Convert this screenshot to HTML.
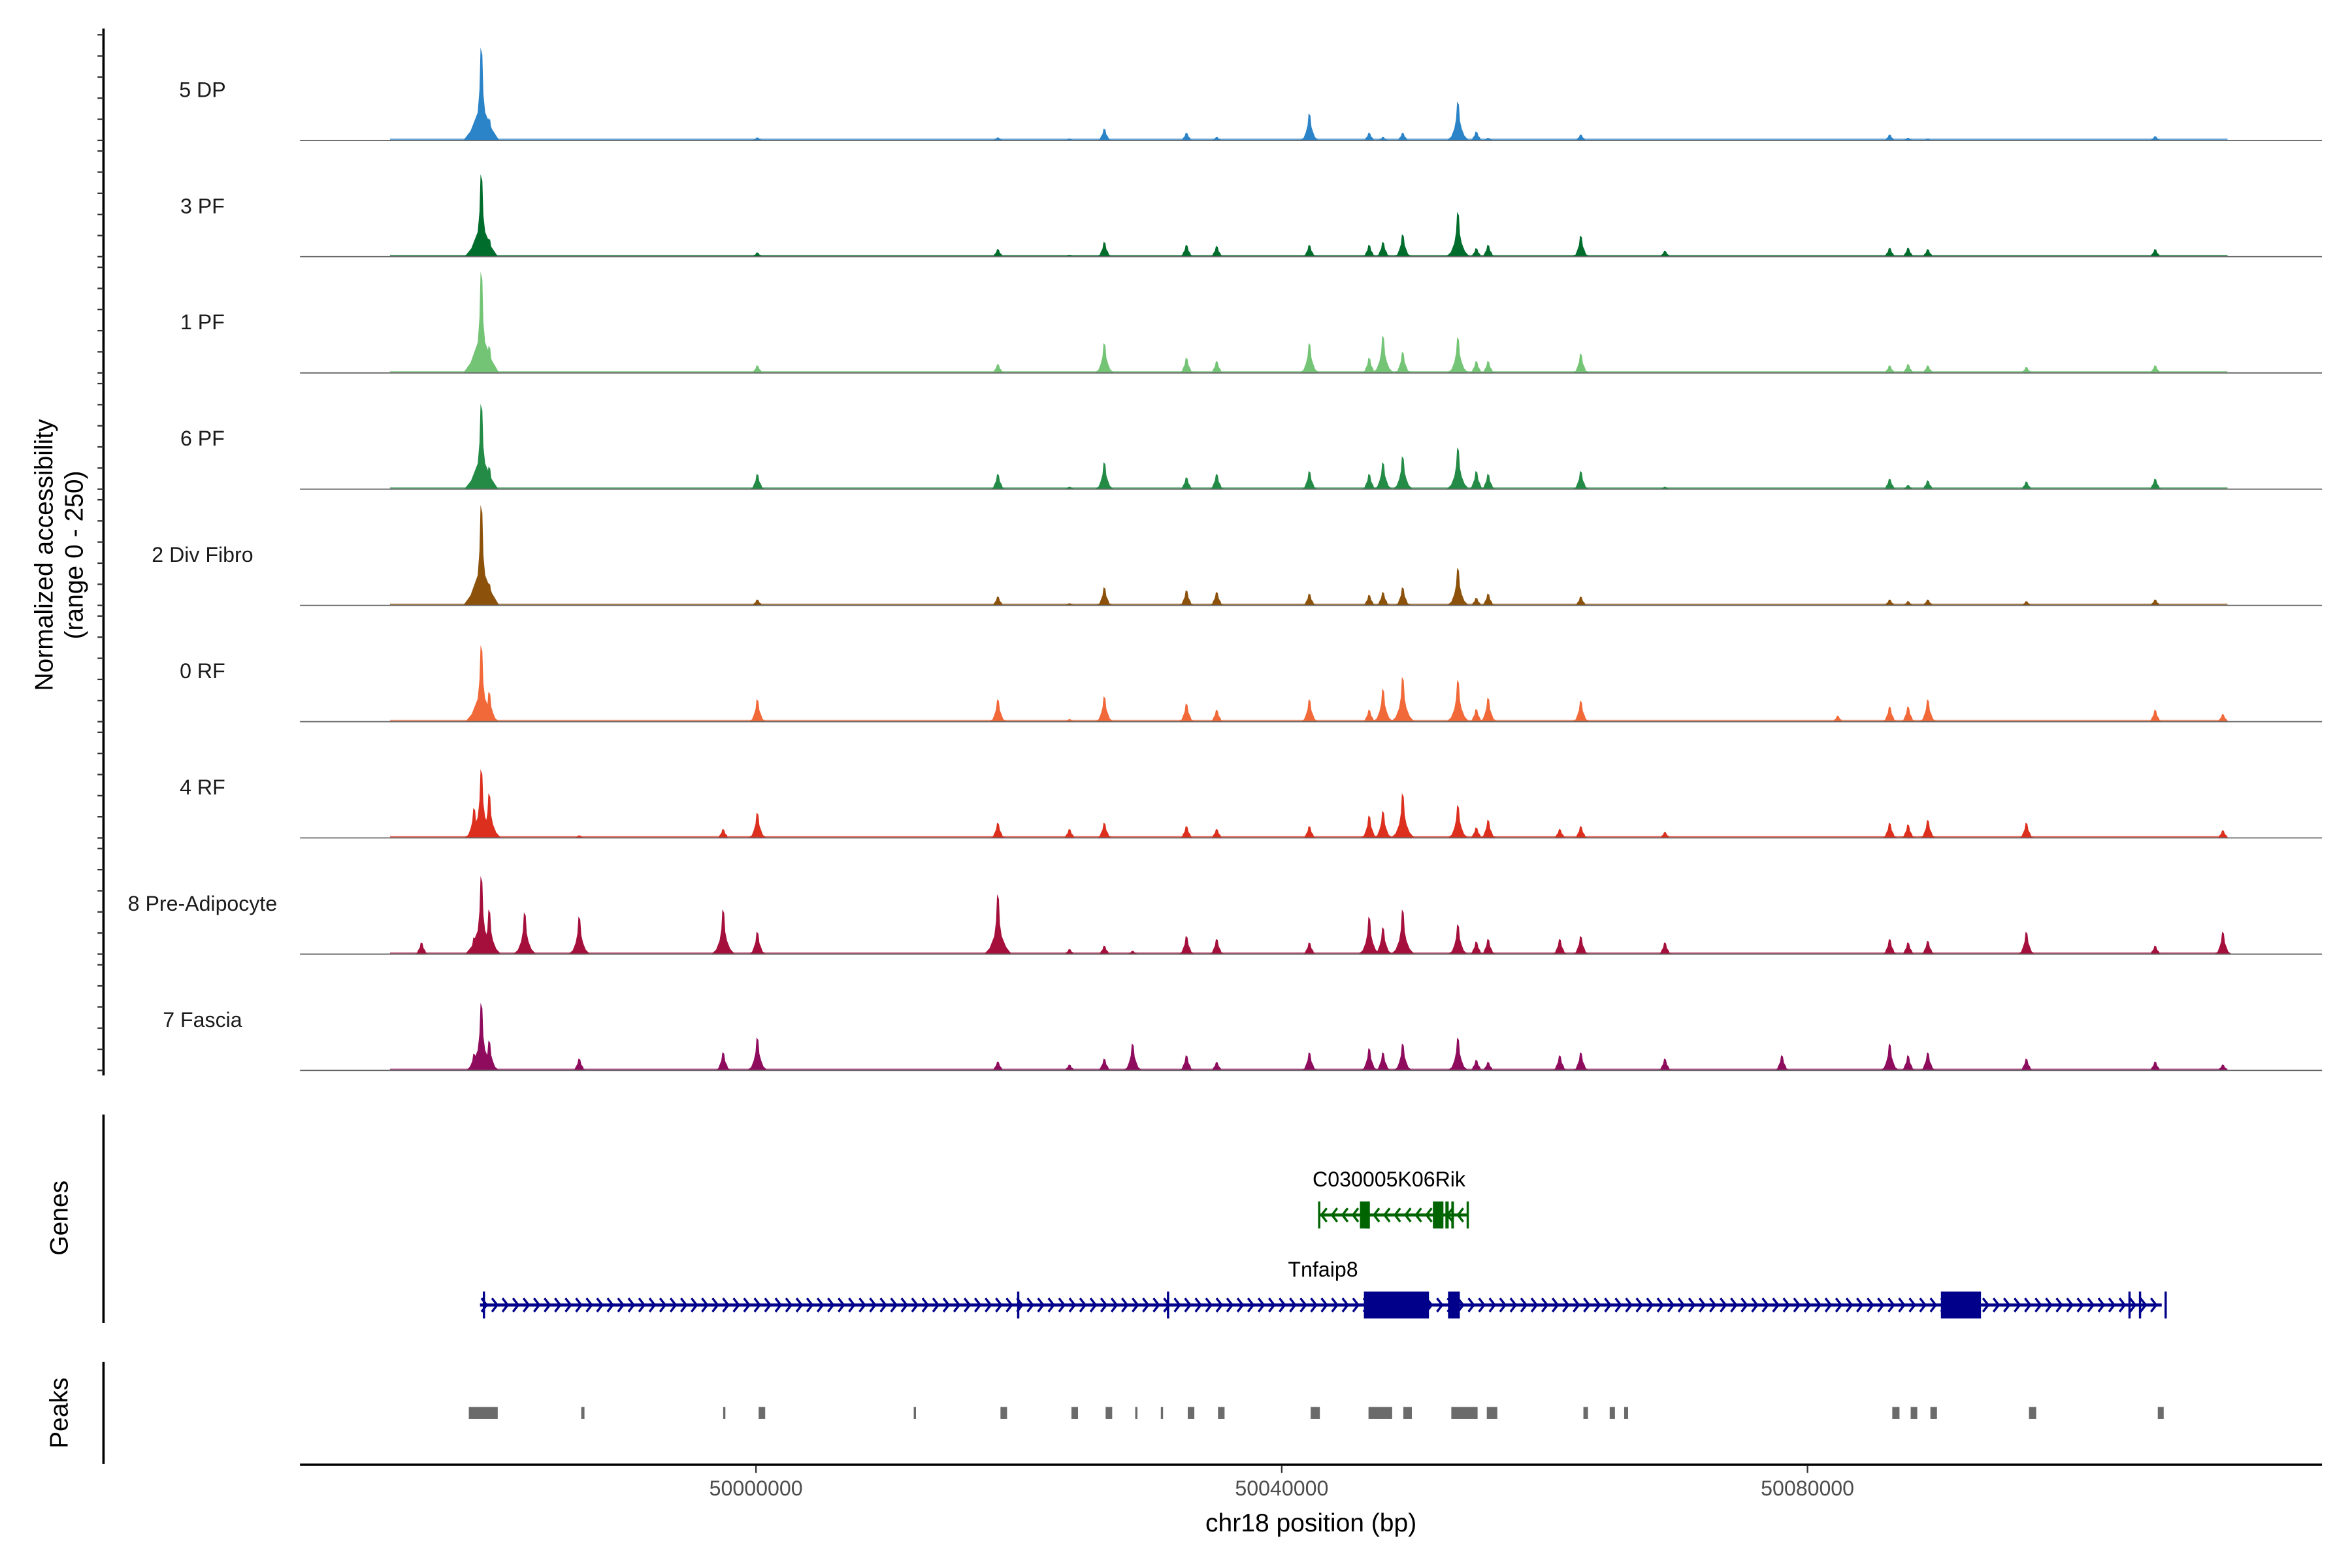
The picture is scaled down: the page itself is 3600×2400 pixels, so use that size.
<!DOCTYPE html>
<html><head><meta charset="utf-8"><title>Coverage plot chr18</title>
<style>html,body{margin:0;padding:0;background:#fff}svg{display:block}text{font-family:"Liberation Sans",Arial,sans-serif}</style>
</head><body>
<svg id="chart" xmlns="http://www.w3.org/2000/svg" width="3600" height="2400" viewBox="0 0 1568 1045.33">
<rect width="1568" height="1046" fill="#fff"/>
<g id="tracks"></g>
<g id="yaxis"></g>
<text transform="translate(35,370) rotate(-90)" text-anchor="middle" font-size="17" fill="#000">Normalized accessibility</text>
<text transform="translate(55,370) rotate(-90)" text-anchor="middle" font-size="17" fill="#000">(range 0 - 250)</text>
<g id="genes"></g>
<g id="peaks"></g>
<g id="xaxis"></g>
<text x="874" y="1021" text-anchor="middle" font-size="17" fill="#000">chr18 position (bp)</text>
</svg>
<script>
const trackNames = ["5 DP","3 PF","1 PF","6 PF","2 Div Fibro","0 RF","4 RF","8 Pre-Adipocyte","7 Fascia"];
const trackColors = ["#2b83c8","#006d2c","#74c476","#238b45","#8c510a","#f16939","#dc2f1e","#a50f3c","#8f0b5e"];
const lociBp = [49974550,49978550,49979100,49979700,49982400,49986550,49997500,50000100,50018400,50023850,50026500,50028650,50032750,50035050,50042100,50046650,50047700,50049200,50053400,50054800,50055700,50061150,50062750,50069150,50078050,50082300,50086250,50087650,50089150,50096650,50106450,50111600];
//            A  B  C   D  E  F  G   H  I   J  K  L  M  N  O  P  Q  R   S   T  U  V  W  X  Y  Z  a  b  c  d  e  f
const dp   = [0, 0,220, 53,0, 0, 0,  7, 7,  4,28, 0,18, 8,64,18, 8,18, 92,21, 6, 0,14, 0, 0, 0,14, 6, 4, 0,10, 0];
const pf3  = [0, 0,195, 43,0, 0, 0, 10,18,  4,35, 0,28,25,28,28,35,53,106,20,28, 0,50,14, 0, 0,21,21,18, 0,18, 0];
const pf1  = [0, 0,240, 64,0, 0, 0, 18,21,  0,71, 0,36,28,71,36,89,50, 85,28,28, 0,46, 0, 0, 0,18,21,18,14,18, 0];
const pf6  = [0, 0,202, 53,0, 0, 0, 36,36,  6,64, 0,28,36,43,36,64,78, 99,43,36, 0,43, 6, 0, 0,25,10,21,18,25, 0];
const div2 = [0, 0,238, 53,0, 0, 0, 14,21,  5,43, 0,36,32,28,25,32,43, 89,18,28, 0,21, 0, 0, 0,14,10,14,10,14, 0];
const rf0  = [0, 0,181, 71,0, 0, 0, 53,53,  6,60, 0,43,28,53,28,78,106,99,30,57, 0,50, 0, 0,14,36,36,53, 0,28,18];
const rf4  = [0,71,163,106,0, 6,21, 60,36, 21,36, 0,28,21,28,53,64,106,78,25,43,21,28,14, 0, 0,36,32,43,36, 0,18];
const pread= [28,40,185,106,99,89,106,53,142,12,20, 8,43,36,28,89,64,106,71,30,36,36,43,28, 0, 0,36,28,32,53,20,53];
const fascia=[0, 40,160, 71,0,28,43, 78,21, 14,28,64,36,20,43,53,43,64, 78,25,20,36,43,28,36, 0,64,36,43,28,21,14];
const trackValues = [dp,pf3,pf1,pf6,div2,rf0,rf4,pread,fascia];
const xTickValues = [50000000,50040000,50080000];
const xTickLabels = ["50000000","50040000","50080000"];
const yTickValues = [0,50,100,150,200,250];
const peakStarts = [49978150,49986700,49997500,50000200,50012000,50018600,50024000,50026600,50028850,50030800,50032850,50035150,50042200,50046600,50049250,50052900,50055600,50062950,50064950,50066050,50086450,50087850,50089350,50096850,50106650];
const peakEnds   = [49980350,49986950,49997600,50000700,50012150,50019100,50024500,50027100,50029000,50030950,50033350,50035650,50042900,50048400,50049900,50054900,50056400,50063300,50065350,50066350,50087000,50088350,50089850,50097400,50107100];
const txStart = 49979000, txEnd = 50106950;
const txExonStarts = [50046250,50052650,50090150];
const txExonEnds   = [50051200,50053550,50093200];
const txThin = [49979300,50019950,50031350,50104500,50105300,50107250];
const ribStart = 50042850, ribEnd = 50054150;
const ribExonStarts = [50045950,50046400,50051500,50052450,50052900];
const ribExonEnds   = [50046700,50046700,50052300,50052700,50053100];

const NS="http://www.w3.org/2000/svg";
function mk(tag,attrs,parent){const e=document.createElementNS(NS,tag);for(const k in attrs)e.setAttribute(k,attrs[k]);parent.appendChild(e);return e;}
const X0=200,X1=1548;
function xs(bp){return 504+(bp-50000000)*350.5/40000;}
function base(i){return 93.6+i*77.5;}
function ys(i,v){return base(i)-v*70.4/250;}

const tg=document.getElementById('tracks');
trackValues.forEach((vals,i)=>{
  const g=mk('g',{},tg);
  
  
  const lab=mk('text',{x:135,y:base(i)-29,'text-anchor':'middle','font-size':14,fill:'#1a1a1a'},g);
  
  
  lab.textContent=trackNames[i];
  const b=base(i);
  const bg=mk('rect',{x:X0+60,y:b-1.2,width:1485-X0-60,height:1.2,fill:trackColors[i],opacity:0.7},g);
  
  
  vals.forEach((v,j)=>{
    if(!v)return;
    const x=xs(lociBp[j]);const yt=ys(i,v);const h=b-yt;
    const w=Math.min(12,4+h*0.13);
    const d=`M${x-w},${b} L${x-w*0.6},${b-h*0.1} L${x-2.4},${b-h*0.3} L${x-1.2},${b-h*0.55} L${x-0.5},${yt} L${x+0.7},${yt+h*0.08} L${x+1.4},${b-h*0.5} L${x+2.6},${b-h*0.3} L${x+w*0.6},${b-h*0.12} L${x+w},${b} Z`;
    const p=mk('path',{d:d,fill:trackColors[i]},g);
    
    
  });
  const bl=mk('line',{x1:X0,x2:X1,y1:b,y2:b,stroke:'#666','stroke-width':0.8},g);
  
  
});

const ya=document.getElementById('yaxis');
mk('line',{x1:69,x2:69,y1:19,y2:717,stroke:'#000','stroke-width':1.6},ya);
trackValues.forEach((_,i)=>{yTickValues.forEach(v=>{
  const t=mk('line',{x1:65,x2:69,y1:ys(i,v),y2:ys(i,v),stroke:'#333','stroke-width':1},ya);
  
  
});});

const gg=document.getElementById('genes');
mk('line',{x1:69,x2:69,y1:743,y2:882,stroke:'#000','stroke-width':1.6},gg);
const gl=mk('text',{transform:'translate(45,812) rotate(-90)','text-anchor':'middle','font-size':17,fill:'#000'},gg);
gl.textContent='Genes';
function gene(name,s,e,es,ee,thin,y,col,dir,labelX,labelY){
  const g=mk('g',{},gg);
  
  
  const t=mk('text',{x:labelX,y:labelY,'text-anchor':'middle','font-size':14,fill:'#000'},g);t.textContent=name;
  mk('line',{x1:xs(s),x2:xs(e),y1:y,y2:y,stroke:col,'stroke-width':2},g);
  for(let x=xs(s)+3;x<xs(e)-2;x+=7){
    const d=dir>0?`M${x-2},${y-4.5} L${x+1.5},${y} L${x-2},${y+4.5}`:`M${x+2},${y-4.5} L${x-1.5},${y} L${x+2},${y+4.5}`;
    mk('path',{d:d,stroke:col,fill:'none','stroke-width':1.5},g);
  }
  thin.forEach(b=>mk('line',{x1:xs(b),x2:xs(b),y1:y-9,y2:y+9,stroke:col,'stroke-width':1.5},g));
  es.forEach((b,k)=>{const r=mk('rect',{x:xs(b),y:y-9,width:Math.max(1.5,xs(ee[k])-xs(b)),height:18,fill:col},g);
    });
}
gene('C030005K06Rik',ribStart,ribEnd,ribExonStarts,ribExonEnds,[ribStart,ribEnd],810,'#006400',-1,926,791);
gene('Tnfaip8',txStart,txEnd,txExonStarts,txExonEnds,txThin,870,'#00008b',1,882,851);

const pg=document.getElementById('peaks');
mk('line',{x1:69,x2:69,y1:908,y2:976,stroke:'#000','stroke-width':1.6},pg);
const pl=mk('text',{transform:'translate(45,942) rotate(-90)','text-anchor':'middle','font-size':17,fill:'#000'},pg);
pl.textContent='Peaks';
peakStarts.forEach((s,k)=>{
  const r=mk('rect',{x:xs(s),y:938,width:Math.max(1.5,xs(peakEnds[k])-xs(s)),height:8,fill:'#6b6b6b'},pg);
  
  
});

const xa=document.getElementById('xaxis');
mk('line',{x1:X0,x2:X1,y1:976.5,y2:976.5,stroke:'#000','stroke-width':1.6},xa);
xTickValues.forEach((v,k)=>{
  const x=xs(v);
  const t=mk('line',{x1:x,x2:x,y1:977,y2:982,stroke:'#333','stroke-width':1},xa);
  
  const l=mk('text',{x:x,y:997,'text-anchor':'middle','font-size':14,fill:'#4d4d4d'},xa);
  
  l.textContent=xTickLabels[k];
});
</script>
</body></html>
